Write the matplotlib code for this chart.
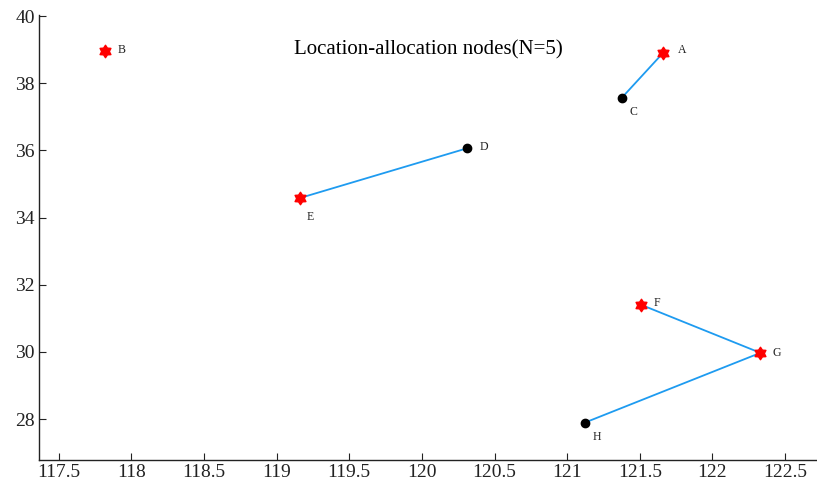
import matplotlib
matplotlib.use("Agg")
import matplotlib.pyplot as plt
from matplotlib.path import Path
import numpy as np

plt.rcParams['font.family'] = ['Liberation Serif', 'DejaVu Serif']

names = ['A', 'B', 'C', 'D', 'E', 'F', 'G', 'H']
lon = [121.66, 117.82, 121.375, 120.31, 119.16, 121.51, 122.33, 121.12]
lat = [38.90, 38.95, 37.56, 36.06, 34.58, 31.40, 29.97, 27.89]
is_center = [True, True, False, False, True, True, True, False]
links = [('C', 'A'), ('D', 'E'), ('F', 'G'), ('H', 'G')]
title = 'Location-allocation nodes(N=5)'
xticks = [117.5, 118, 118.5, 119, 119.5, 120, 120.5, 121, 121.5, 122, 122.5]
yticks = [28, 30, 32, 34, 36, 38, 40]

# label offsets in points (style)
label_off = {'A': (11, 2), 'B': (9, 1), 'C': (6, -10), 'D': (9, 1), 'E': (5, -14),
             'F': (9, 1), 'G': (9, 0), 'H': (6, -10)}

# hexagram marker
ang_out = np.deg2rad(90 + np.arange(6) * 60)
ang_in = ang_out + np.deg2rad(30)
verts = []
for ao, ai in zip(ang_out, ang_in):
    verts.append((np.cos(ao), np.sin(ao)))
    verts.append((0.62 * np.cos(ai), 0.62 * np.sin(ai)))
verts.append(verts[0])
codes = [Path.MOVETO] + [Path.LINETO] * 11 + [Path.CLOSEPOLY]
hexagram = Path(verts, codes)

fig = plt.figure(figsize=(8.17, 4.86), dpi=100)
ax = fig.add_axes([39 / 817, 26 / 486, 778 / 817, 445 / 486])

idx = {n: i for i, n in enumerate(names)}
for a, b in links:
    ia, ib = idx[a], idx[b]
    ax.plot([lon[ia], lon[ib]], [lat[ia], lat[ib]], color='#1e9bf0', lw=1.3, zorder=1)

for i, n in enumerate(names):
    if is_center[i]:
        ax.plot(lon[i], lat[i], marker=hexagram, color='red', ms=9, mec='red', zorder=3, ls='none')
    else:
        ax.plot(lon[i], lat[i], marker='o', color='black', ms=6, zorder=3, ls='none')
    ax.annotate(n, (lon[i], lat[i]), xytext=label_off[n], textcoords='offset points',
                fontsize=8.5, ha='left', va='center', color='#222222')

ax.text(0.5, 0.921, title, transform=ax.transAxes, ha='center', va='center', fontsize=15)

ax.set_xlim(117.364, 122.72)
ax.set_ylim(26.78, 40.03)
ax.set_xticks(xticks)
ax.set_xticklabels([('%g' % v) for v in xticks])
ax.set_yticks(yticks)
ax.tick_params(direction='in', length=5, width=0.8, labelsize=14, pad=3, colors='#222222')
for s in ['top', 'right']:
    ax.spines[s].set_visible(False)
for s in ['left', 'bottom']:
    ax.spines[s].set_linewidth(1.0)
    ax.spines[s].set_color('#222222')

fig.savefig('out.png', dpi=100)
